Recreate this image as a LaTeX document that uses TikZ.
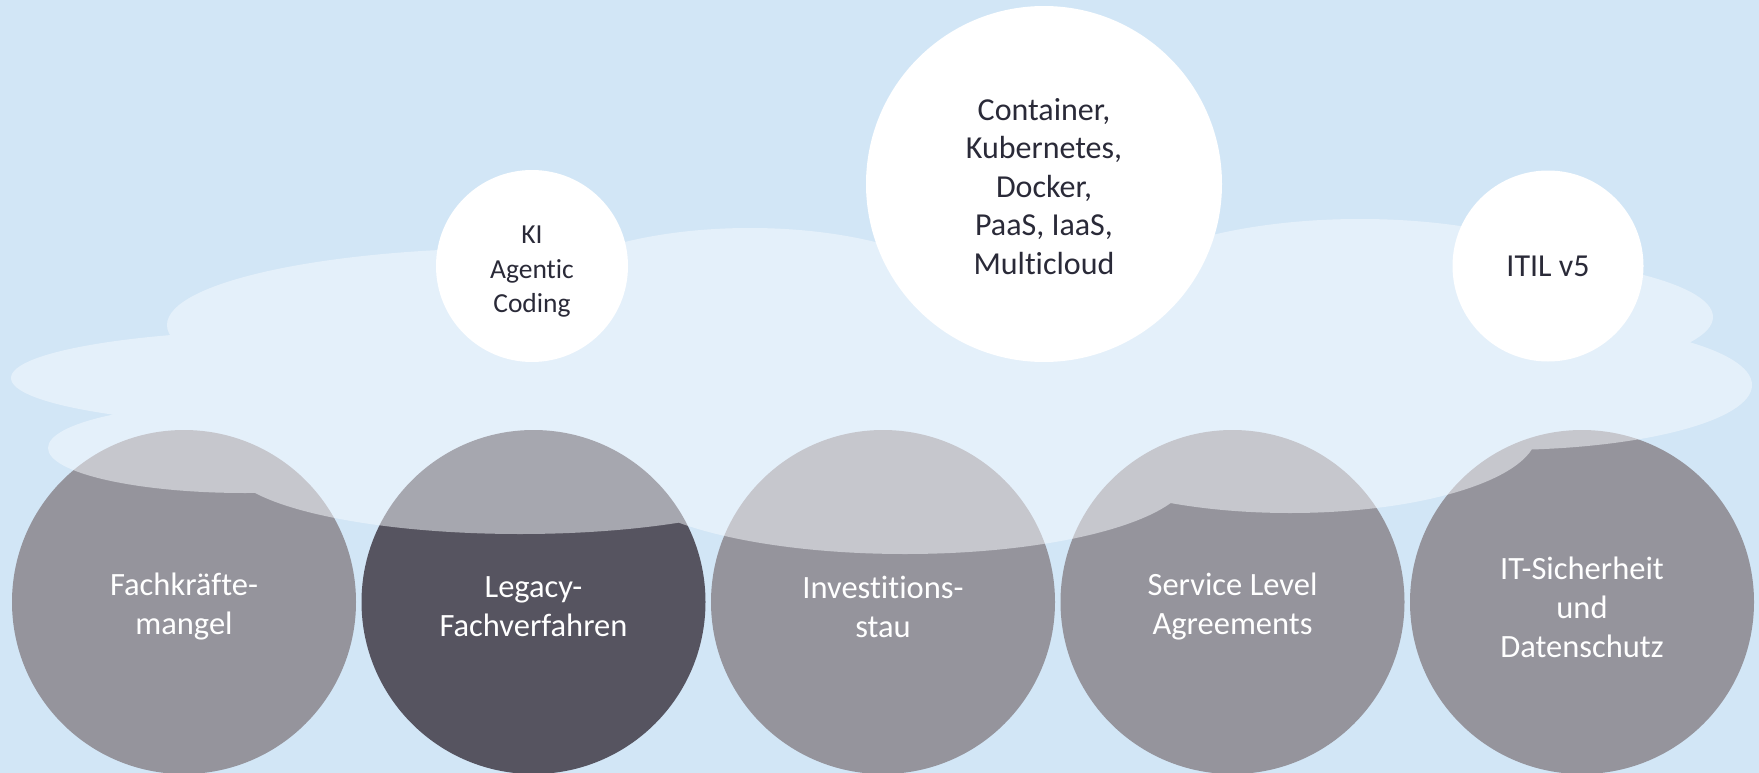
\documentclass[tikz,border=0pt]{standalone}
\usepackage{fontspec}
\setmainfont{Carlito}[Ligatures={NoCommon}, Contextuals={NoAlternate}]
\usepackage{xcolor}
\usepackage{tikz}
\usetikzlibrary{shapes}

\definecolor{skyblue}{RGB}{210,230,246}
\definecolor{cloudwhite}{RGB}{247,250,254}
\definecolor{midgray}{RGB}{149,148,156}
\definecolor{darkslate}{RGB}{86,84,96}
\definecolor{inkdark}{RGB}{42,42,56}

\tikzset{
  lowcircle/.style={circle, minimum size=344pt, inner sep=0pt, fill=midgray},
  lowtext/.style={text=white, align=center, font=\fontsize{32.5}{39}\selectfont, yshift=-5pt},
  topcircle/.style={circle, inner sep=0pt, fill=white},
  toptext/.style={text=inkdark, align=center, font=\fontsize{32}{38.5}\selectfont}
}

\begin{document}
\begin{tikzpicture}[x=1pt, y=-1pt]
\fill [skyblue] (0,0) rectangle (1759,773);
\useasboundingbox (0,0) rectangle (1759,773);

% challenges at the bottom
\node [lowcircle, label={[lowtext]center:{Fachkräfte-\\mangel}}] (FM) at (184,602) {};
\node [lowcircle, fill=darkslate, label={[lowtext]center:{Legacy-\\Fachverfahren}}] (LF) at (533.5,602) {};
\node [lowcircle, label={[lowtext]center:{Investitions-\\stau}}] (IS) at (883,602) {};
\node [lowcircle, label={[lowtext]center:{Service Level\\Agreements}}] (SLA) at (1232.5,602) {};
\node [lowcircle, label={[lowtext]center:{IT-Sicherheit\\und\\Datenschutz}}] (ITS) at (1582,602) {};

% the cloud
\fill [cloudwhite, fill opacity=0.5]
  (520,325) ellipse [x radius=353, y radius=77]
  (300,378) ellipse [x radius=289, y radius=48]
  (245,448) ellipse [x radius=197, y radius=45]
  (520,464) ellipse [x radius=291, y radius=70]
  (905,474) ellipse [x radius=285, y radius=80]
  (1290,433) ellipse [x radius=247, y radius=80]
  (1500,385) ellipse [x radius=252, y radius=65]
  (1430,317) ellipse [x radius=283, y radius=64]
  (1360,319) ellipse [x radius=272, y radius=100]
  (750,320) ellipse [x radius=236, y radius=92]
  (880,400) ellipse [x radius=500, y radius=100];

% topics above the cloud
\node [topcircle, minimum size=192pt,
  label={[toptext, font=\fontsize{27.5}{34.5}\selectfont, yshift=-6pt]center:{KI\\Agentic\\Coding}}] (KI) at (532,266) {};
\node [topcircle, minimum size=356pt,
  label={[toptext, yshift=-2.5pt]center:{Container,\\Kubernetes,\\Docker,\\PaaS, IaaS,\\Multicloud}}] (CK) at (1044,184) {};
\node [topcircle, minimum size=191pt, label={[toptext]center:ITIL v5}] (ITIL) at (1548,266) {};
\end{tikzpicture}
\end{document}
